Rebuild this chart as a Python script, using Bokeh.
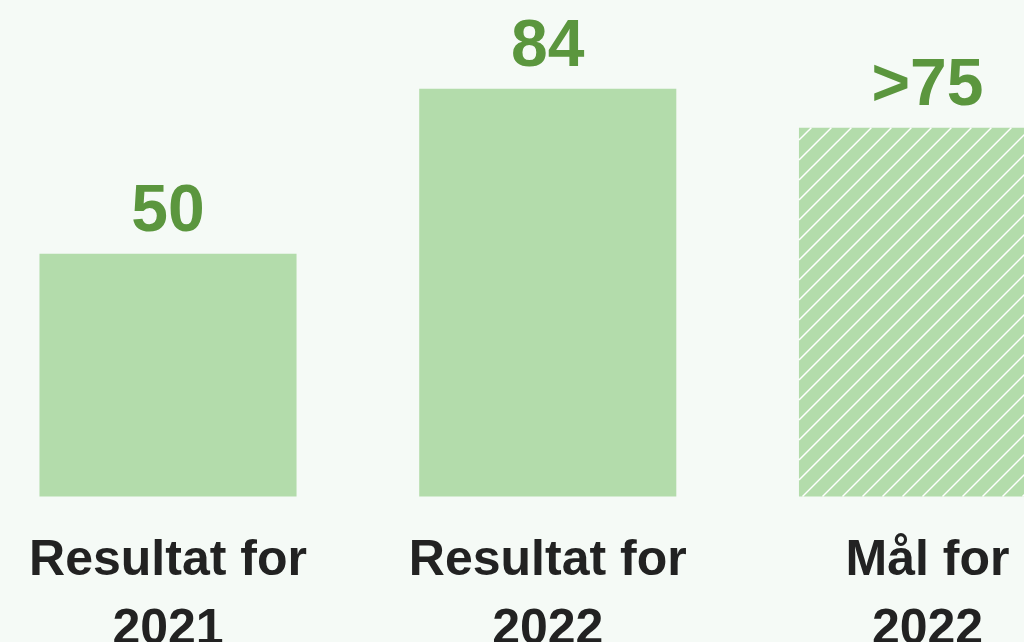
from bokeh.plotting import figure
from bokeh.models import ColumnDataSource, Range1d
from bokeh.embed import file_html
from bokeh.resources import INLINE
from bokeh.core.properties import value

# ---- data ----
label_line1 = ["Resultat for", "Resultat for", "Mål for"]
label_line2 = ["2021", "2022", "2022"]
values = [50, 84, 76]
value_labels = ["50", "84", ">75"]
is_target = [False, False, True]

BG = "#f5faf6"
BAR = "#b3dcab"
GREEN = "#5b963e"
DARK = "#222222"
FONT = value("Liberation Sans")

W, H = 1024, 642
X0, X1 = -0.4411, 2.2554
Y0, Y1 = -30.08, 102.2
bw = 0.677

xs = list(range(len(values)))
src_all = ColumnDataSource(dict(x=xs, top=values, vl=value_labels, l1=label_line1, l2=label_line2))
src_res = ColumnDataSource(dict(x=[x for x, t in zip(xs, is_target) if not t],
                                top=[v for v, t in zip(values, is_target) if not t]))
src_tgt = ColumnDataSource(dict(x=[x for x, t in zip(xs, is_target) if t],
                                top=[v for v, t in zip(values, is_target) if t]))

p = figure(width=W, height=H, output_backend="svg", toolbar_location=None,
           x_range=Range1d(X0, X1), y_range=Range1d(Y0, Y1),
           min_border=0, background_fill_color=BG, border_fill_color=BG)
p.outline_line_color = None
p.axis.visible = False
p.grid.visible = False

p.vbar(x="x", top="top", bottom=0, width=bw, source=src_res, fill_color=BAR, line_color=None)
p.vbar(x="x", top="top", bottom=0, width=bw, source=src_tgt, fill_color=BAR, line_color=None)

# 45-degree white hatch over the target bar(s), computed from the bar geometry
sx = W / (X1 - X0)
sy = H / (Y1 - Y0)
hx0, hy0, hx1, hy1 = [], [], [], []
spacing = 20.0
phase = 2.0
for x, top in zip(src_tgt.data["x"], src_tgt.data["top"]):
    L = (x - bw / 2 - X0) * sx
    R = (x + bw / 2 - X0) * sx
    yb = (0 - Y0) * sy
    yt = (top - Y0) * sy
    h = yt - yb
    c = phase + spacing * int((L - h - phase) // spacing)
    while c <= R:
        t0 = max(0.0, L - c)
        t1 = min(h, R - c)
        if t1 > t0:
            hx0.append((c + t0) / sx + X0)
            hy0.append((yb + t0) / sy + Y0)
            hx1.append((c + t1) / sx + X0)
            hy1.append((yb + t1) / sy + Y0)
        c += spacing
p.segment(x0=hx0, y0=hy0, x1=hx1, y1=hy1, line_color="white", line_width=1.5)

p.text(x="x", y="top", text="vl", source=src_all, text_font=FONT, text_font_style="bold",
       text_font_size="66px", text_color=GREEN, text_align="center",
       text_baseline="alphabetic", y_offset=-46)

p.text(x="x", y=0, text="l1", source=src_all, text_font=FONT, text_font_style="bold",
       text_font_size="50px", text_color=DARK, text_align="center",
       text_baseline="alphabetic", y_offset=61)
p.text(x="x", y=0, text="l2", source=src_all, text_font=FONT, text_font_style="bold",
       text_font_size="50px", text_color=DARK, text_align="center",
       text_baseline="alphabetic", y_offset=130)

html = file_html(p, INLINE)
html = html.replace("<head>", "<head><style>html,body{background:%s;}</style>" % BG, 1)
open("out.html", "w").write(html)
